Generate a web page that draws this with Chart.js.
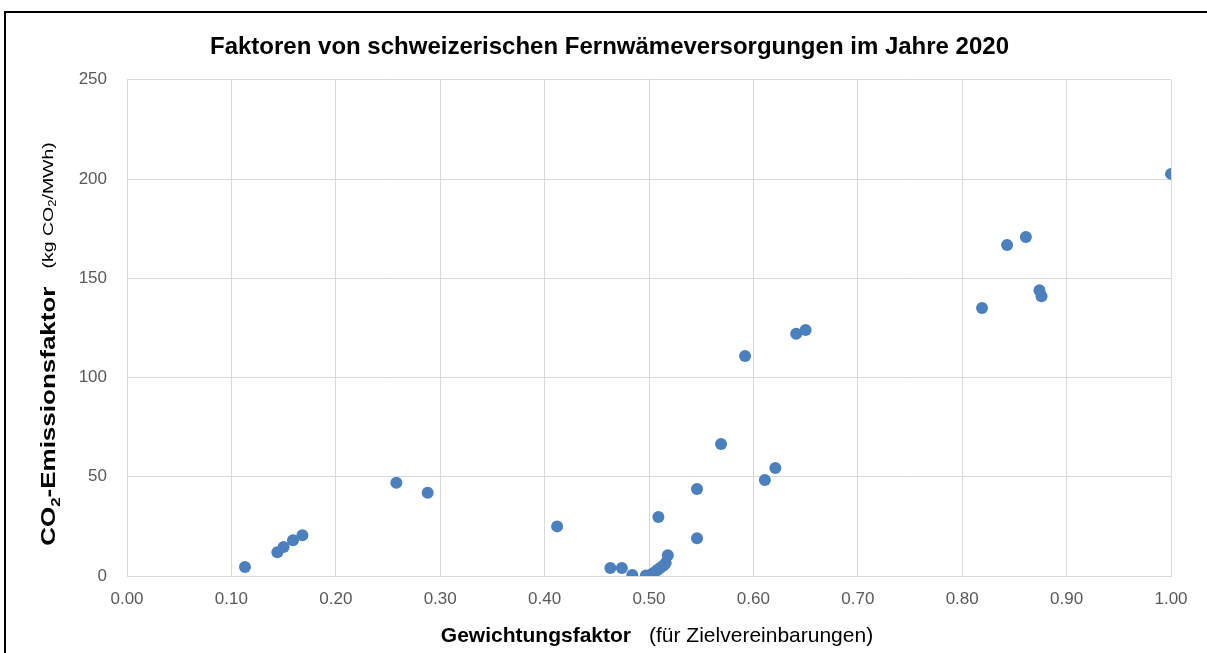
<!DOCTYPE html>
<html>
<head>
<meta charset="utf-8">
<script src="https://cdn.jsdelivr.net/npm/chart.js@4.4.1/dist/chart.umd.min.js"></script>
<style>
  html, body { margin: 0; padding: 0; background: #ffffff; }
  #wrap { width: 1207px; height: 653px; position: relative; }
</style>
</head>
<body>
<div id="wrap"><canvas id="c" width="1207" height="653"></canvas></div>
<script>
// ---- Data ----
const chartTitle = "Faktoren von schweizerischen Fernwämeversorgungen im Jahre 2020";
const xTitleBold = "Gewichtungsfaktor";
const xTitleNormal = "(für Zielvereinbarungen)";
const yTitleBoldParts = ["CO", "2", "-Emissionsfaktor"];
const yTitleNormalParts = ["(kg CO", "2", "/MWh)"];

const weightFactor = [0.113, 0.144, 0.150, 0.159, 0.168, 0.258, 0.288, 0.412, 0.463, 0.474,
                      0.484, 0.497, 0.500, 0.502, 0.505, 0.508, 0.511, 0.514, 0.516, 0.518,
                      0.509, 0.546, 0.546, 0.569, 0.592, 0.611, 0.621, 0.641, 0.650, 0.819,
                      0.843, 0.861, 0.874, 0.876, 1.000];
const co2Factor    = [4.5, 12, 14.6, 18, 20.5, 47, 42, 25, 4, 4,
                      0.5, 0.3, 0.3, 0.8, 1.8, 3, 4.2, 5.3, 6.5, 10.5,
                      29.7, 43.8, 19, 66.5, 110.9, 48.4, 54.4, 122, 124, 135,
                      166.8, 170.8, 144, 141, 202.6];

const xMin = 0, xMax = 1, xStep = 0.1;
const yMin = 0, yMax = 250, yStep = 50;

const points = weightFactor.map((x, i) => ({ x: x, y: co2Factor[i] }));

const FONT = "'Liberation Sans', Arial, Helvetica, sans-serif";
const GRID = '#d9d9d9';
const TICK = '#595959';

const framePlugin = {
  id: 'frame',
  beforeDraw(chart) {
    const ctx = chart.ctx;
    ctx.save();
    ctx.fillStyle = '#ffffff';
    ctx.fillRect(0, 0, chart.width, chart.height);
    ctx.strokeStyle = '#000000';
    ctx.lineWidth = 2;
    ctx.strokeRect(5, 12, chart.width + 20, chart.height + 20);
    ctx.restore();
  }
};

const axisTitlePlugin = {
  id: 'axisTitles',
  afterDraw(chart) {
    const ctx = chart.ctx;
    ctx.save();
    ctx.fillStyle = '#000000';
    ctx.textBaseline = 'alphabetic';
    ctx.textAlign = 'left';

    // X axis title
    const bFont = "bold 21px " + FONT;
    const nFont = "21px " + FONT;
    ctx.font = bFont; const wb = ctx.measureText(xTitleBold).width;
    const gap = 18;
    ctx.font = nFont; const wn = ctx.measureText(xTitleNormal).width;
    const total = wb + gap + wn;
    let x0 = 657 - total / 2;
    const yBase = 642;
    ctx.font = bFont; ctx.fillText(xTitleBold, x0, yBase);
    ctx.font = nFont; ctx.fillText(xTitleNormal, x0 + wb + gap, yBase);
    ctx.restore();

    // Y axis title (rotated, slightly stretched along its length like the reference)
    ctx.save();
    ctx.fillStyle = '#000000';
    ctx.textBaseline = 'alphabetic';
    ctx.textAlign = 'left';
    const segs = [
      { t: yTitleBoldParts[0], f: "bold 20px " + FONT, dy: 0, s: 1.3 },
      { t: yTitleBoldParts[1], f: "bold 13px " + FONT, dy: 5, s: 1.3 },
      { t: yTitleBoldParts[2], f: "bold 20px " + FONT, dy: 0, s: 1.3 },
      { t: "", gap: 18 },
      { t: yTitleNormalParts[0], f: "15px " + FONT, dy: -2, s: 1.3 },
      { t: yTitleNormalParts[1], f: "10px " + FONT, dy: 1, s: 1.3 },
      { t: yTitleNormalParts[2], f: "15px " + FONT, dy: -2, s: 1.3 }
    ];
    let tw = 0;
    segs.forEach(s => {
      if (s.gap) { s.w = s.gap; } else { ctx.font = s.f; s.w = ctx.measureText(s.t).width * s.s; }
      tw += s.w;
    });
    const cy = 344;
    ctx.translate(55, cy);
    ctx.rotate(-Math.PI / 2);
    let px = -tw / 2;
    segs.forEach(s => {
      if (s.t) {
        ctx.save();
        ctx.font = s.f;
        ctx.translate(px, s.dy);
        ctx.scale(s.s, 1);
        ctx.fillText(s.t, 0, 0);
        ctx.restore();
      }
      px += s.w;
    });
    ctx.restore();
  }
};

new Chart(document.getElementById('c'), {
  type: 'scatter',
  data: {
    datasets: [{
      data: points,
      backgroundColor: '#4b7fbd',
      borderWidth: 0,
      pointRadius: 6,
      pointHoverRadius: 6
    }]
  },
  plugins: [framePlugin, axisTitlePlugin],
  options: {
    responsive: false,
    animation: false,
    events: [],
    layout: { padding: { left: 48, right: 36, top: 0, bottom: 0 } },
    plugins: {
      legend: { display: false },
      tooltip: { enabled: false },
      title: {
        display: true,
        text: chartTitle,
        color: '#000000',
        font: { family: FONT, size: 24, weight: 'bold', lineHeight: 1.2 },
        padding: { top: 33, bottom: 18 }
      }
    },
    scales: {
      x: {
        type: 'linear',
        min: xMin, max: xMax,
        afterFit(scale) { scale.height = 77; },
        ticks: {
          stepSize: xStep,
          color: TICK,
          font: { family: FONT, size: 17 },
          padding: 13,
          callback: v => Number(v).toFixed(2)
        },
        grid: { color: GRID, lineWidth: 1, drawTicks: false },
        border: { color: GRID }
      },
      y: {
        type: 'linear',
        min: yMin, max: yMax,
        afterFit(scale) { scale.width = 79; },
        ticks: {
          stepSize: yStep,
          color: TICK,
          font: { family: FONT, size: 17 },
          padding: 20
        },
        grid: { color: GRID, lineWidth: 1, drawTicks: false },
        border: { color: GRID }
      }
    }
  }
});
</script>
</body>
</html>
